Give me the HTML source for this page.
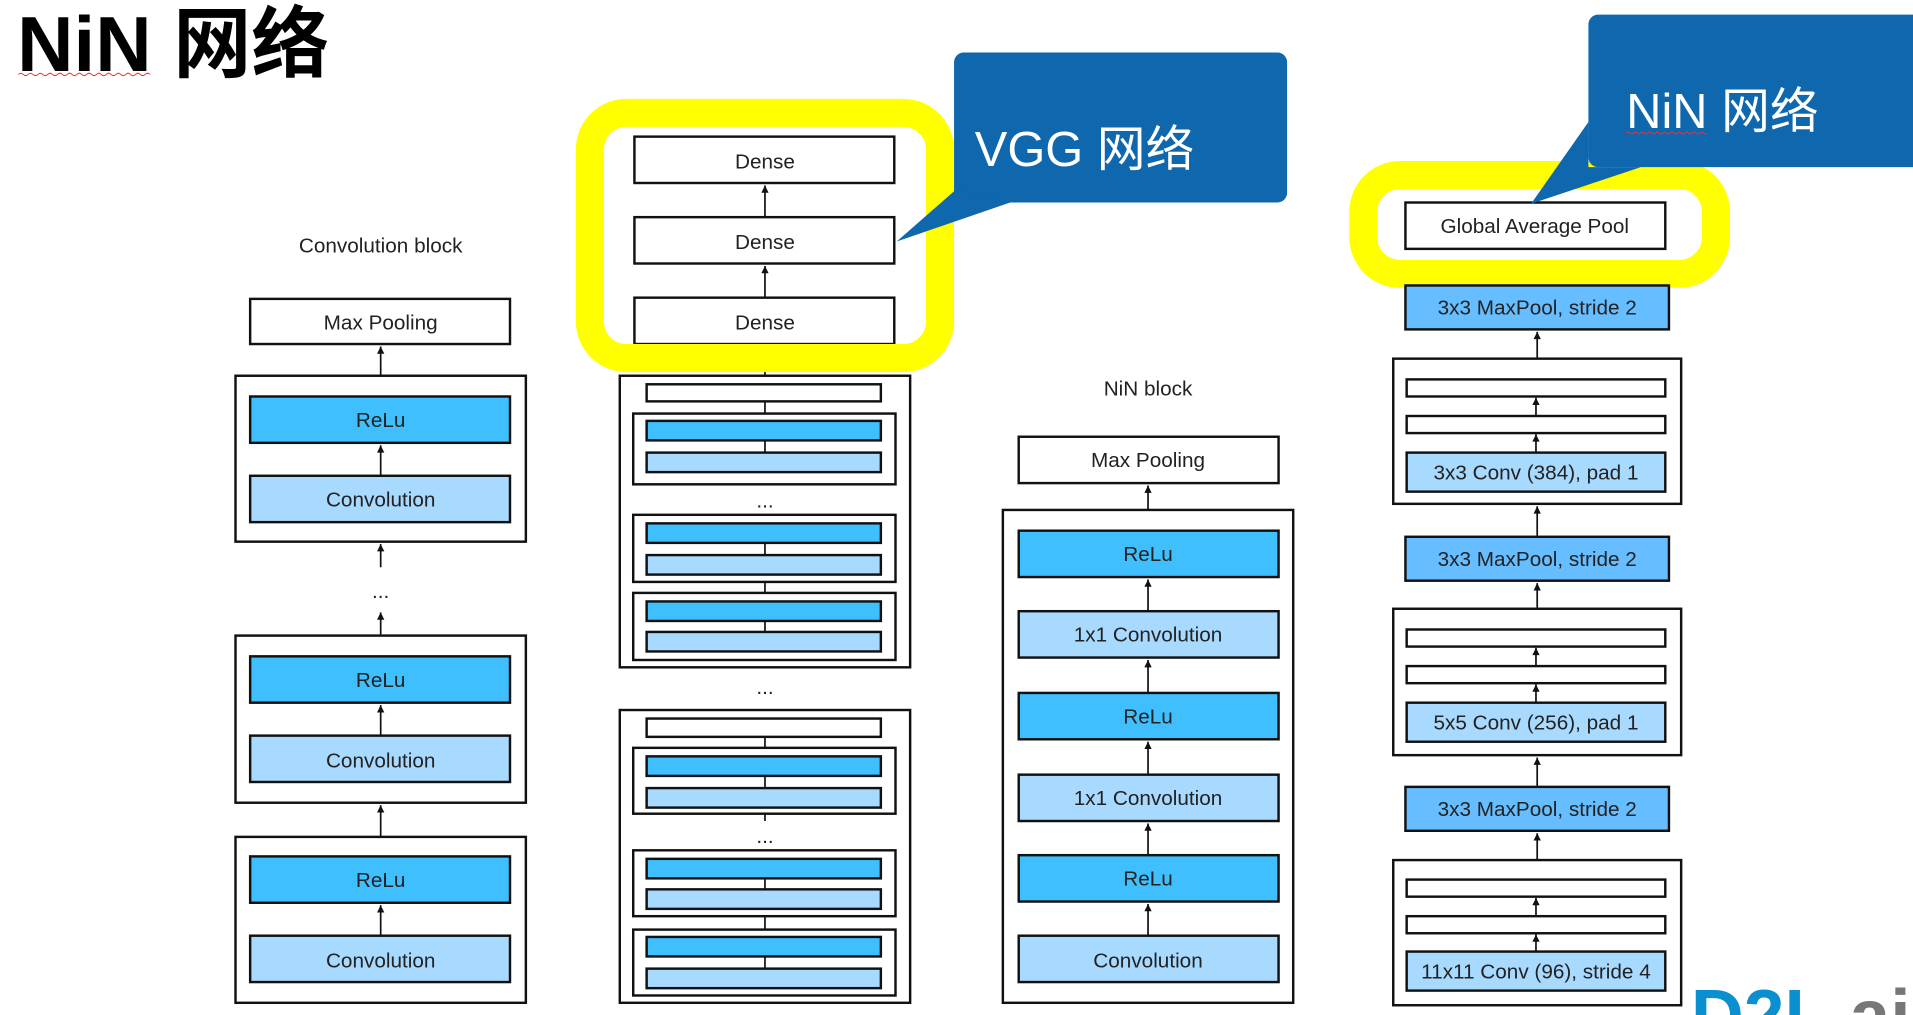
<!DOCTYPE html>
<html><head><meta charset="utf-8">
<style>
html,body{margin:0;padding:0;background:#fff;overflow:hidden}
svg{display:block}
text{font-family:"Liberation Sans","Noto Sans CJK SC",sans-serif}
.b{stroke:#111;stroke-width:2}
.w{fill:#fff}
.r{fill:#40bfff}
.c{fill:#a8d9ff}
.m{fill:#66bdff}
.t{font-size:17px;fill:#222;text-anchor:middle}
.a{stroke:#111;stroke-width:1.4;fill:none}
</style></head>
<body>
<svg width="1913" height="1015" viewBox="0 0 1568 832" xmlns="http://www.w3.org/2000/svg">
<defs>
<marker id="ah" viewBox="0 0 10 10" refX="10" refY="5" markerWidth="9" markerHeight="6" orient="auto" markerUnits="userSpaceOnUse">
<path d="M0,0 L10,5 L0,10 Z" fill="#111"/>
</marker>
</defs>

<!-- Title -->
<text x="14" y="58" style="font-size:64px;font-weight:bold;fill:#000">NiN 网络</text>
<path d="M15,61 q2,-2 4,0 t4,0 t4,0 t4,0 t4,0 t4,0 t4,0 t4,0 t4,0 t4,0 t4,0 t4,0 t4,0 t4,0 t4,0 t4,0 t4,0 t4,0 t4,0 t4,0 t4,0 t4,0 t4,0 t4,0 t4,0 t4,0 t4,0" stroke="#e33" stroke-width="0.8" fill="none"/>

<!-- Column 1 -->
<text class="t" x="312" y="207">Convolution block</text>
<rect class="b w" x="205" y="245" width="213" height="37"/>
<text class="t" x="312" y="270">Max Pooling</text>
<line class="a" x1="312" y1="308" x2="312" y2="284" marker-end="url(#ah)"/>
<rect class="b w" x="193" y="308" width="238" height="136"/>
<rect class="b r" x="205" y="325" width="213" height="38"/>
<text class="t" x="312" y="350">ReLu</text>
<line class="a" x1="312" y1="390" x2="312" y2="365" marker-end="url(#ah)"/>
<rect class="b c" x="205" y="390" width="213" height="38"/>
<text class="t" x="312" y="415">Convolution</text>
<line class="a" x1="312" y1="465" x2="312" y2="446" marker-end="url(#ah)"/>
<text class="t" x="312" y="490">...</text>
<line class="a" x1="312" y1="520" x2="312" y2="502" marker-end="url(#ah)"/>
<rect class="b w" x="193" y="521" width="238" height="137"/>
<rect class="b r" x="205" y="538" width="213" height="38"/>
<text class="t" x="312" y="563">ReLu</text>
<line class="a" x1="312" y1="603" x2="312" y2="578" marker-end="url(#ah)"/>
<rect class="b c" x="205" y="603" width="213" height="38"/>
<text class="t" x="312" y="629">Convolution</text>
<line class="a" x1="312" y1="686" x2="312" y2="660" marker-end="url(#ah)"/>
<rect class="b w" x="193" y="686" width="238" height="136"/>
<rect class="b r" x="205" y="702" width="213" height="38"/>
<text class="t" x="312" y="727">ReLu</text>
<line class="a" x1="312" y1="767" x2="312" y2="742" marker-end="url(#ah)"/>
<rect class="b c" x="205" y="767" width="213" height="38"/>
<text class="t" x="312" y="793">Convolution</text>

<!-- Column 2 VGG -->
<rect class="b w" x="520" y="112" width="213" height="38"/>
<text class="t" x="627" y="138">Dense</text>
<line class="a" x1="627" y1="178" x2="627" y2="152" marker-end="url(#ah)"/>
<rect class="b w" x="520" y="178" width="213" height="38"/>
<text class="t" x="627" y="204">Dense</text>
<line class="a" x1="627" y1="244" x2="627" y2="218" marker-end="url(#ah)"/>
<rect class="b w" x="520" y="244" width="213" height="38"/>
<text class="t" x="627" y="270">Dense</text>
<rect x="483.5" y="92.5" width="287" height="201" rx="30" fill="none" stroke="#ffff00" stroke-width="23"/>

<line class="a" x1="627" y1="305" x2="627" y2="309"/>
<rect class="b w" x="508" y="308" width="238" height="239"/>
<rect class="b w" x="530" y="315" width="192" height="14"/>
<rect class="b w" x="519" y="339" width="215" height="58"/>
<rect class="b r" x="530" y="345" width="192" height="16"/>
<rect class="b c" x="530" y="371" width="192" height="16"/>
<text class="t" x="627" y="416">...</text>
<rect class="b w" x="519" y="422" width="215" height="55"/>
<rect class="b r" x="530" y="429" width="192" height="16"/>
<rect class="b c" x="530" y="455" width="192" height="16"/>
<rect class="b w" x="519" y="486" width="215" height="55"/>
<rect class="b r" x="530" y="493" width="192" height="16"/>
<rect class="b c" x="530" y="518" width="192" height="16"/>
<line class="a" x1="627" y1="329" x2="627" y2="339"/>
<line class="a" x1="627" y1="361" x2="627" y2="371"/>
<line class="a" x1="627" y1="445" x2="627" y2="455"/>
<line class="a" x1="627" y1="477" x2="627" y2="486"/>
<line class="a" x1="627" y1="509" x2="627" y2="518"/>
<text class="t" x="627" y="569">...</text>

<rect class="b w" x="508" y="582" width="238" height="240"/>
<rect class="b w" x="530" y="589" width="192" height="15"/>
<rect class="b w" x="519" y="613" width="215" height="54"/>
<rect class="b r" x="530" y="620" width="192" height="16"/>
<rect class="b c" x="530" y="646" width="192" height="16"/>
<text class="t" x="627" y="691">...</text>
<rect class="b w" x="519" y="697" width="215" height="54"/>
<rect class="b r" x="530" y="704" width="192" height="16"/>
<rect class="b c" x="530" y="729" width="192" height="16"/>
<rect class="b w" x="519" y="762" width="215" height="54"/>
<rect class="b r" x="530" y="768" width="192" height="16"/>
<rect class="b c" x="530" y="794" width="192" height="16"/>
<line class="a" x1="627" y1="604" x2="627" y2="613"/>
<line class="a" x1="627" y1="636" x2="627" y2="646"/>
<line class="a" x1="627" y1="667" x2="627" y2="673"/>
<line class="a" x1="627" y1="720" x2="627" y2="729"/>
<line class="a" x1="627" y1="751" x2="627" y2="762"/>
<line class="a" x1="627" y1="784" x2="627" y2="794"/>

<!-- Column 3 NiN block -->
<text class="t" x="941" y="324">NiN block</text>
<rect class="b w" x="835" y="358" width="213" height="38"/>
<text class="t" x="941" y="383">Max Pooling</text>
<line class="a" x1="941" y1="435" x2="941" y2="398" marker-end="url(#ah)"/>
<rect class="b w" x="822" y="418" width="238" height="404"/>
<rect class="b r" x="835" y="435" width="213" height="38"/>
<text class="t" x="941" y="460">ReLu</text>
<line class="a" x1="941" y1="501" x2="941" y2="475" marker-end="url(#ah)"/>
<rect class="b c" x="835" y="501" width="213" height="38"/>
<text class="t" x="941" y="526">1x1 Convolution</text>
<line class="a" x1="941" y1="568" x2="941" y2="541" marker-end="url(#ah)"/>
<rect class="b r" x="835" y="568" width="213" height="38"/>
<text class="t" x="941" y="593">ReLu</text>
<line class="a" x1="941" y1="635" x2="941" y2="608" marker-end="url(#ah)"/>
<rect class="b c" x="835" y="635" width="213" height="38"/>
<text class="t" x="941" y="660">1x1 Convolution</text>
<line class="a" x1="941" y1="701" x2="941" y2="675" marker-end="url(#ah)"/>
<rect class="b r" x="835" y="701" width="213" height="38"/>
<text class="t" x="941" y="726">ReLu</text>
<line class="a" x1="941" y1="767" x2="941" y2="741" marker-end="url(#ah)"/>
<rect class="b c" x="835" y="767" width="213" height="38"/>
<text class="t" x="941" y="793">Convolution</text>

<!-- Column 4 NiN network -->
<rect class="b w" x="1152" y="166" width="213" height="38"/>
<text class="t" x="1258" y="191">Global Average Pool</text>
<rect x="1117.5" y="143.5" width="289" height="81" rx="30" fill="none" stroke="#ffff00" stroke-width="23"/>
<rect class="b m" x="1152" y="234" width="216" height="36"/>
<text class="t" x="1260" y="258">3x3 MaxPool, stride 2</text>
<line class="a" x1="1260" y1="294" x2="1260" y2="272" marker-end="url(#ah)"/>
<rect class="b w" x="1142" y="294" width="236" height="119"/>
<rect class="b w" x="1153" y="311" width="212" height="14"/>
<rect class="b w" x="1153" y="341" width="212" height="14"/>
<rect class="b c" x="1153" y="371" width="212" height="32"/>
<text class="t" x="1259" y="393">3x3 Conv (384), pad 1</text>
<line class="a" x1="1259" y1="341" x2="1259" y2="326" marker-end="url(#ah)"/>
<line class="a" x1="1259" y1="371" x2="1259" y2="356" marker-end="url(#ah)"/>
<line class="a" x1="1260" y1="440" x2="1260" y2="415" marker-end="url(#ah)"/>
<rect class="b m" x="1152" y="440" width="216" height="36"/>
<text class="t" x="1260" y="464">3x3 MaxPool, stride 2</text>
<line class="a" x1="1260" y1="499" x2="1260" y2="478" marker-end="url(#ah)"/>
<rect class="b w" x="1142" y="499" width="236" height="120"/>
<rect class="b w" x="1153" y="516" width="212" height="14"/>
<rect class="b w" x="1153" y="546" width="212" height="14"/>
<rect class="b c" x="1153" y="576" width="212" height="32"/>
<text class="t" x="1259" y="598">5x5 Conv (256), pad 1</text>
<line class="a" x1="1259" y1="546" x2="1259" y2="531" marker-end="url(#ah)"/>
<line class="a" x1="1259" y1="576" x2="1259" y2="561" marker-end="url(#ah)"/>
<line class="a" x1="1260" y1="645" x2="1260" y2="621" marker-end="url(#ah)"/>
<rect class="b m" x="1152" y="645" width="216" height="36"/>
<text class="t" x="1260" y="669">3x3 MaxPool, stride 2</text>
<line class="a" x1="1260" y1="705" x2="1260" y2="683" marker-end="url(#ah)"/>
<rect class="b w" x="1142" y="705" width="236" height="119"/>
<rect class="b w" x="1153" y="721" width="212" height="14"/>
<rect class="b w" x="1153" y="751" width="212" height="14"/>
<rect class="b c" x="1153" y="780" width="212" height="32"/>
<text class="t" x="1259" y="802">11x11 Conv (96), stride 4</text>
<line class="a" x1="1259" y1="751" x2="1259" y2="736" marker-end="url(#ah)"/>
<line class="a" x1="1259" y1="780" x2="1259" y2="766" marker-end="url(#ah)"/>

<!-- Callouts -->
<rect x="782" y="43" width="273" height="123" rx="8" fill="#0f67ae"/>
<polygon points="784,155 828,166 735,198" fill="#0f67ae"/>
<text x="799" y="136" style="font-size:40px;fill:#fff">VGG 网络</text>

<rect x="1302" y="12" width="280" height="125" rx="8" fill="#0f67ae"/>
<polygon points="1302,100 1302,137 1345,137 1255,167" fill="#0f67ae"/>
<text x="1333" y="105" style="font-size:40px;fill:#fff">NiN 网络</text>
<path d="M1333,109 q1.5,-1.5 3,0 t3,0 t3,0 t3,0 t3,0 t3,0 t3,0 t3,0 t3,0 t3,0 t3,0 t3,0 t3,0 t3,0 t3,0 t3,0 t3,0 t3,0 t3,0 t3,0 t3,0 t3,0" stroke="#e33" stroke-width="0.8" fill="none"/>

<!-- Logo -->
<text x="1386" y="853" style="font-size:60px;font-weight:bold;fill:#0a8fd0">D2L<tspan style="fill:#777">.ai</tspan></text>
</svg>
</body></html>
